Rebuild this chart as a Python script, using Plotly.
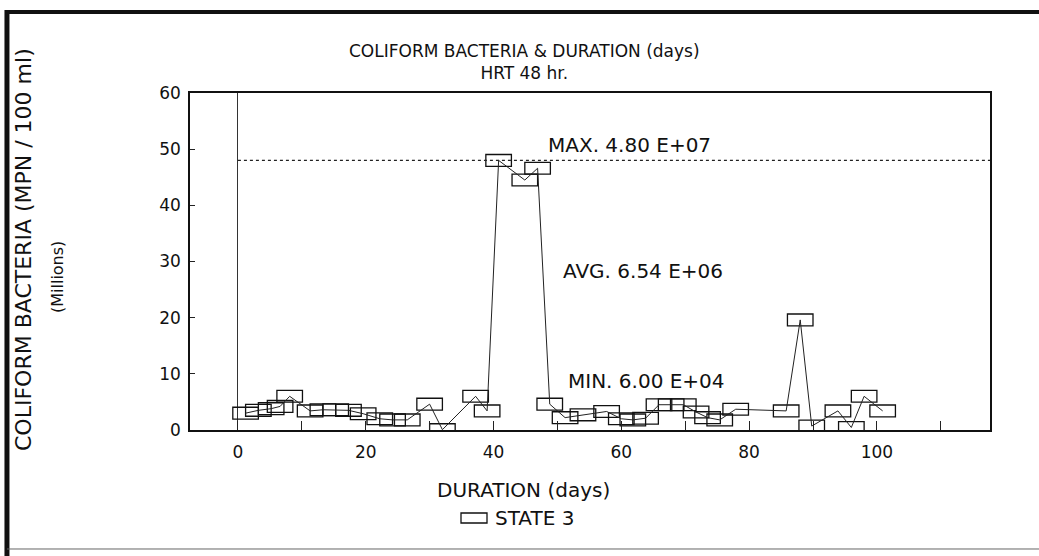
import plotly.graph_objects as go

# ---- data ----
days = [1.2, 3.2, 5.2, 6.6, 8.1, 11.3, 13.3, 15.3, 17.3, 19.6, 22.2, 24.2, 26.5,
        30.0, 32.0, 37.2, 39.0, 40.8, 44.9, 46.9, 48.8, 51.2, 54.0, 57.7, 60.0,
        61.8, 63.8, 65.9, 67.8, 69.7, 71.7, 73.5, 75.4, 77.9, 85.8, 88.0, 89.8,
        93.9, 96.0, 98.0, 100.9]
coliform_millions = [3.0, 3.5, 3.8, 4.2, 6.0, 3.4, 3.6, 3.6, 3.5, 2.9, 2.0, 1.8, 1.8,
                     4.6, 0.06, 6.0, 3.4, 48.0, 44.5, 46.6, 4.6, 2.2, 2.7, 3.3, 2.0,
                     1.8, 2.1, 4.5, 4.5, 4.5, 3.2, 2.2, 1.8, 3.7, 3.4, 19.6, 0.7,
                     3.4, 0.45, 6.0, 3.4]
series_name = "STATE 3"
x_tick_values = [0, 10, 20, 30, 40, 50, 60, 70, 80, 90, 100, 110]
x_tick_labels = ["0", "", "20", "", "40", "", "60", "", "80", "", "100", ""]
y_tick_values = [0, 10, 20, 30, 40, 50, 60]
y_tick_labels = ["0", "10", "20", "30", "40", "50", "60"]
max_label = "MAX. 4.80 E+07"
avg_label = "AVG. 6.54 E+06"
min_label = "MIN. 6.00 E+04"
title_text = "COLIFORM BACTERIA & DURATION (days)<br>HRT 48 hr."

X_RANGE = [-7.5, 117.7]
Y_RANGE = [0, 60]
BOX_W = 4.0    # marker box width in days
BOX_H = 2.1    # marker box height in millions
FONT = "DejaVu Sans"

fig = go.Figure()
fig.add_trace(go.Scatter(
    x=days, y=coliform_millions, mode="lines",
    line=dict(color="#222222", width=1), showlegend=False, hoverinfo="skip"))
fig.add_trace(go.Bar(
    x=days, y=[BOX_H] * len(days),
    base=[v - BOX_H / 2 for v in coliform_millions],
    width=BOX_W, name=series_name, showlegend=False,
    marker=dict(color="rgba(0,0,0,0)", line=dict(color="#111111", width=1.3))))

vmax = max(coliform_millions)
shapes = [
    # dotted max line
    dict(type="line", xref="x", yref="y", x0=0, x1=X_RANGE[1], y0=vmax, y1=vmax,
         line=dict(color="#222222", width=1.2, dash="dot")),
    # outer page frame
    dict(type="line", xref="paper", yref="paper", x0=-0.2288, x1=1.065, y0=1.2404, y1=1.2404,
         line=dict(color="#111111", width=4)),
    dict(type="line", xref="paper", yref="paper", x0=-0.2288, x1=-0.2288, y0=1.2464, y1=-0.40,
         line=dict(color="#111111", width=5)),
    dict(type="line", xref="paper", yref="paper", x0=-0.2288, x1=1.065, y0=-0.3531, y1=-0.3531,
         line=dict(color="#666666", width=1)),
    # legend box
    dict(type="rect", xref="paper", yref="paper", x0=0.33875, x1=0.37125, y0=-0.276, y1=-0.2463,
         line=dict(color="#111111", width=1.3), fillcolor="rgba(0,0,0,0)"),
]

def ann(text, x, y, size, xref="paper", yref="paper", xanchor="center", angle=0):
    return dict(text=text, xref=xref, yref=yref, x=x, y=y, xanchor=xanchor,
                yanchor="middle", textangle=angle, showarrow=False,
                font=dict(size=size))

annotations = [
    ann(title_text, 0.4175, (430 - 62) / 337, 17),
    ann("COLIFORM BACTERIA (MPN / 100 ml)", -0.20875, 0.5341, 22, angle=-90),
    ann("(Millions)", -0.16625, 0.454, 16, angle=-90),
    ann("DURATION (days)", 0.41625, (430 - 490) / 337, 20),
    ann(series_name, 0.37875, (430 - 518) / 337, 20, xanchor="left"),
    ann(max_label, 61.3, 50.8, 20, xref="x", yref="y"),
    ann(avg_label, 63.4, 28.3, 20, xref="x", yref="y"),
    ann(min_label, 64.0, 8.8, 20, xref="x", yref="y"),
]

fig.update_layout(
    width=1039, height=556, autosize=False,
    margin=dict(l=190, r=49, t=93, b=126, pad=0),
    paper_bgcolor="white", plot_bgcolor="white",
    font=dict(family=FONT, color="#111111", size=17),
    barmode="overlay", showlegend=False,
    shapes=shapes, annotations=annotations,
)
fig.update_xaxes(
    range=X_RANGE, tickmode="array", tickvals=x_tick_values, ticktext=x_tick_labels,
    ticks="inside", ticklen=9, tickwidth=1, tickcolor="#222222",
    showline=True, linecolor="#111111", linewidth=1.5, mirror=True,
    showgrid=False, zeroline=True, zerolinecolor="#333333", zerolinewidth=1,
    tickfont=dict(size=17), ticklabelstandoff=6)
fig.update_yaxes(
    range=Y_RANGE, tickmode="array", tickvals=y_tick_values, ticktext=y_tick_labels,
    ticks="inside", ticklen=5, tickwidth=1, tickcolor="#222222",
    showline=True, linecolor="#111111", linewidth=1.5, mirror=True,
    showgrid=False, zeroline=False, tickfont=dict(size=17), ticklabelstandoff=4)

fig.write_html("out.html", config={"displayModeBar": False},
               post_script="document.body.style.margin='0';")
